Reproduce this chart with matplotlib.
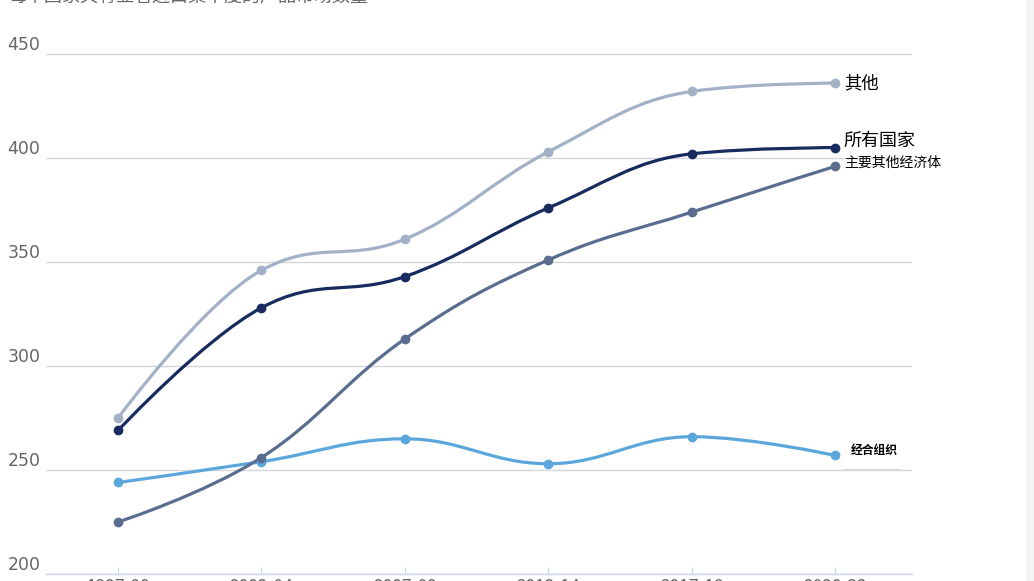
import matplotlib
matplotlib.use("Agg")
import matplotlib.pyplot as plt
from matplotlib.path import Path
from matplotlib.patches import PathPatch, Rectangle
import numpy as np

plt.rcParams['font.family'] = ['Noto Sans CJK SC', 'DejaVu Sans']

title = "每个国家具有显著进口集中度的产品市场数量"
periods = ["1997-99", "2002-04", "2007-09", "2012-14", "2017-19", "2020-22"]

other = [275, 346, 361, 403, 432, 436]
all_countries = [269, 328, 343, 376, 402, 405]
major_other = [225, 256, 313, 351, 374, 396]
oecd = [244, 254, 265, 253, 266, 257]

series = [
    ("经合组织", oecd, "#5ba7dc"),
    ("主要其他经济体", major_other, "#5b6d8f"),
    ("其他", other, "#a3b1c6"),
    ("所有国家", all_countries, "#172b5e"),
]

yticks = [200, 250, 300, 350, 400, 450]


def spline_path(xs, ys, smoothing=1.5):
    denom = smoothing + 1
    n = len(xs)
    lefts, rights = [], []
    for i in range(n):
        x, y = xs[i], ys[i]
        if i == 0 or i == n - 1:
            lefts.append((x, y))
            rights.append((x, y))
            continue
        lx, ly = xs[i - 1], ys[i - 1]
        nx, ny = xs[i + 1], ys[i + 1]
        lcx = (smoothing * x + lx) / denom
        lcy = (smoothing * y + ly) / denom
        rcx = (smoothing * x + nx) / denom
        rcy = (smoothing * y + ny) / denom
        corr = ((rcy - lcy) * (rcx - x)) / (rcx - lcx) + y - rcy
        lcy += corr
        rcy += corr
        if lcy > ly and lcy > y:
            lcy = max(ly, y)
            rcy = 2 * y - lcy
        elif lcy < ly and lcy < y:
            lcy = min(ly, y)
            rcy = 2 * y - lcy
        if rcy > ny and rcy > y:
            rcy = max(ny, y)
            lcy = 2 * y - rcy
        elif rcy < ny and rcy < y:
            rcy = min(ny, y)
            lcy = 2 * y - rcy
        lefts.append((lcx, lcy))
        rights.append((rcx, rcy))
    verts = [(xs[0], ys[0])]
    codes = [Path.MOVETO]
    for i in range(n - 1):
        verts += [rights[i], lefts[i + 1], (xs[i + 1], ys[i + 1])]
        codes += [Path.CURVE4] * 3
    return Path(verts, codes)


fig = plt.figure(figsize=(10.34, 5.81), dpi=100)
fig.patches.append(Rectangle((1026 / 1034, 0), 8 / 1034, 1, transform=fig.transFigure,
                             facecolor='#f3f4f6', edgecolor='none', zorder=0))
ax = fig.add_axes([46 / 1034, 7 / 581, (912 - 46) / 1034, (574 - 43.6) / 581])
ax.set_xlim(-0.502, 5.535)
ax.set_ylim(200, 455)

x = np.arange(len(periods))
for name, vals, col in series:
    p = spline_path(list(x), list(vals))
    ax.add_patch(PathPatch(p, facecolor='none', edgecolor=col, lw=2.3,
                           capstyle='round', joinstyle='round', zorder=3))
    ax.plot(x, vals, 'o', color=col, markersize=6, zorder=4)

ax.set_yticks(yticks)
ax.set_yticklabels([str(v) for v in yticks])
ax.grid(axis='y', color='#d3d6db', lw=1)
ax.set_axisbelow(True)
for s in ['top', 'right', 'left']:
    ax.spines[s].set_visible(False)
ax.spines['bottom'].set_color('#ccd6eb')
ax.spines['bottom'].set_linewidth(1)
ax.tick_params(axis='y', length=0, pad=4, labelsize=12.5, labelcolor='#666666')
for lab in ax.get_yticklabels():
    lab.set_verticalalignment('bottom')
    lab.set_family(['DejaVu Sans'])
ax.set_xticks(x)
ax.set_xticklabels(periods)
ax.tick_params(axis='x', direction='in', length=5, color='#ccd6eb', pad=3,
               labelsize=12.5, labelcolor='#666666')

# series labels
ax.text(5.06, other[-1], "其他", fontsize=12.5, color='black', va='center', ha='left')
ax.text(5.06, all_countries[-1] + 3, "所有国家", fontsize=13, color='black', va='center', ha='left')
ax.text(5.06, major_other[-1] + 1.5, "主要其他经济体", fontsize=10, color='black', va='center', ha='left')
ax.text(5.11, oecd[-1] + 2.5, "经合组织", fontsize=8.5, color='black', va='center', ha='left',
        fontweight='bold')
ax.plot([5.06, 5.45], [250.3, 250.3], color='#d8d8d8', lw=0.8, zorder=2)

fig.text(8 / 1034, 1 - (-3) / 581, title, fontsize=13, color='#666666', va='center', ha='left')

fig.savefig("out.png", dpi=100)
